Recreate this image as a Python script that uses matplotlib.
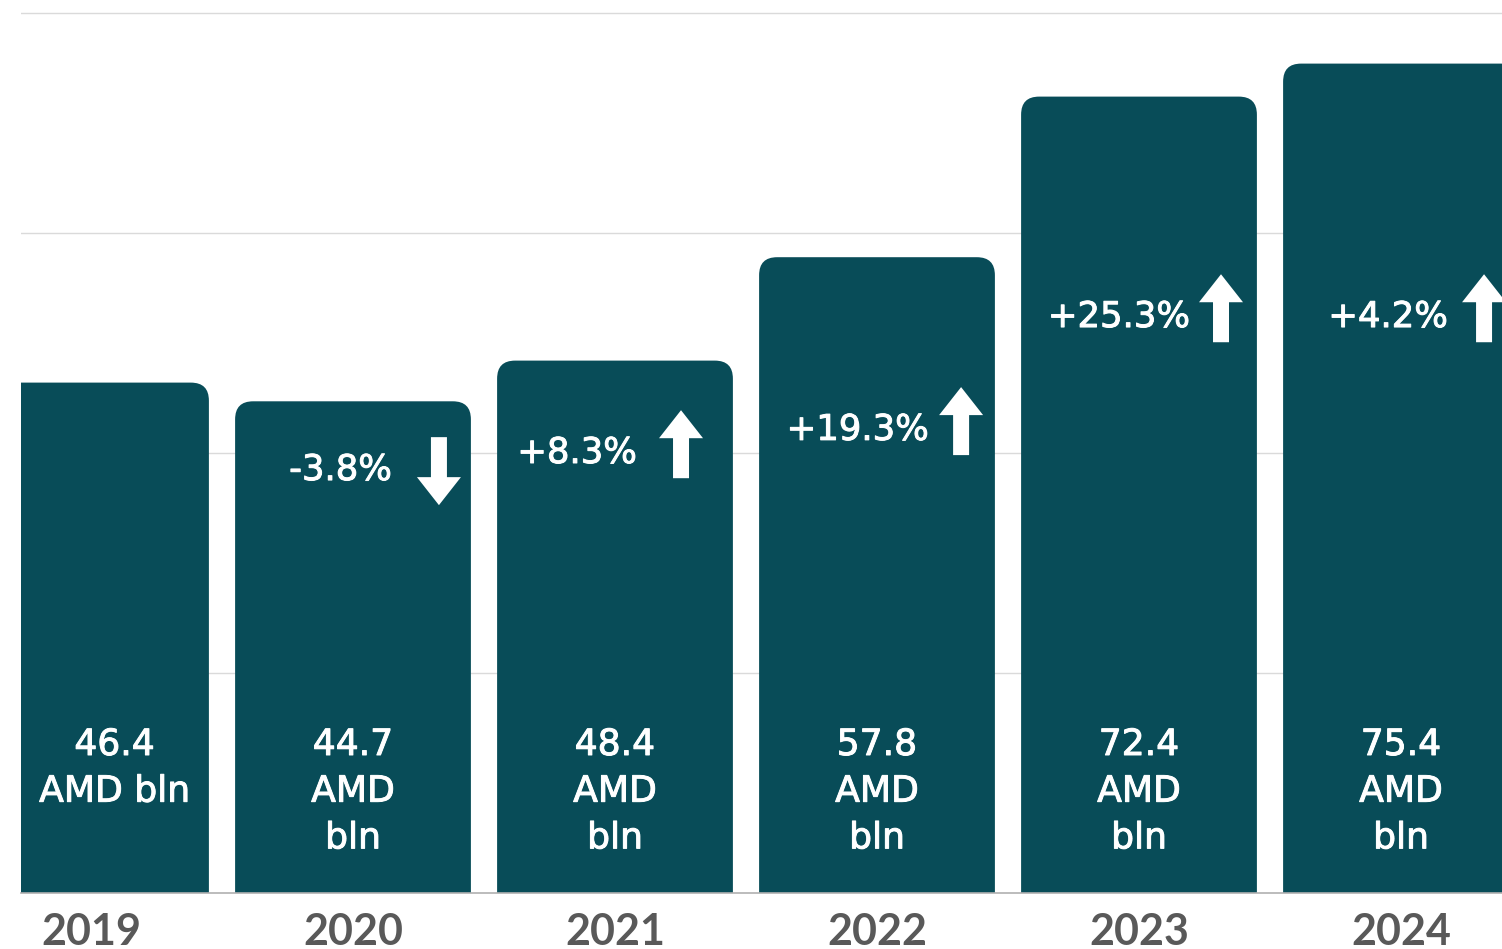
import matplotlib.pyplot as plt
import matplotlib.transforms as mtransforms
import matplotlib.patheffects as pe
from matplotlib.patches import FancyBboxPatch, Polygon

# data
years = ["2019", "2020", "2021", "2022", "2023", "2024"]
values = [46.4, 44.7, 48.4, 57.8, 72.4, 75.4]
value_labels = ["46.4\nAMD bln", "44.7\nAMD\nbln", "48.4\nAMD\nbln",
                "57.8\nAMD\nbln", "72.4\nAMD\nbln", "75.4\nAMD\nbln"]
changes = [None, "-3.8%", "+8.3%", "+19.3%", "+25.3%", "+4.2%"]
directions = [0, -1, 1, 1, 1, 1]

# label layout (data units)
label_dx = [0.09, 0, 0, 0, 0, 0]
text_dx = [0, 0.149, 0.084, 0.198, 0.195, 0.179]
text_y = [0, 38.45, 40.0, 42.1, 52.36, 52.36]
arrow_dx = [0, 0.328, 0.252, 0.321, 0.313, 0.317]

BAR = "#084c58"
FONT = ["Lato", "DejaVu Sans"]
LABEL_FONT = ["DejaVu Sans"]
thicken = [pe.withStroke(linewidth=0.7, foreground="white")]

W, H = 1502, 949
dpi = 100
fig = plt.figure(figsize=(W / dpi, H / dpi), dpi=dpi)

# axes placed so that the baseline sits at y=893px and 11px = 1 unit
px_unit = 11
top_val = 81
ax_h = top_val * px_unit
ax = fig.add_axes([21 / W, (H - 893) / H, (W - 21) / W, ax_h / H])
ax.set_ylim(0, top_val)
ax.set_xlim(-70 / 262, 5 + (W - 21 - 70 - 5 * 262) / 262)

for s in ax.spines.values():
    s.set_visible(False)
ax.axhline(0, color="#b0b0b0", lw=1.2, zorder=3, clip_on=False)
for g in [20, 40, 60, 80]:
    ax.axhline(g, color="#dadada", lw=1, zorder=0)

ax.set_yticks([])
ax.set_xticks(range(len(years)))
ax.set_xticklabels(years, fontsize=31, fontweight="bold", color="#595959", family=FONT)
ax.tick_params(axis="x", length=0, pad=14)

bw = 0.9
r_x = 18 / 262
aspect = (1 / px_unit) / (1 / 262)
for i, v in enumerate(values):
    bar = FancyBboxPatch((i - bw / 2, -3), bw, v + 3,
                         boxstyle=f"round,pad=0,rounding_size={r_x}",
                         mutation_aspect=aspect, facecolor=BAR, edgecolor="none", zorder=2)
    ax.add_patch(bar)
    ax.text(i + label_dx[i], 15.0, value_labels[i], ha="center", va="top", color="white",
            fontsize=26, family=LABEL_FONT, linespacing=1.47, zorder=4,
            path_effects=thicken)

# arrow shape in pixels (pointing up, centred at origin)
hw, sw, hl, L = 22, 8, 28, 68
arrow_up = [(0, L / 2), (hw, L / 2 - hl), (sw, L / 2 - hl), (sw, -L / 2),
            (-sw, -L / 2), (-sw, L / 2 - hl), (-hw, L / 2 - hl)]

for i, c in enumerate(changes):
    if c is None:
        continue
    ax.text(i + text_dx[i], text_y[i], c, ha="right", va="center", color="white",
            fontsize=25.5, family=LABEL_FONT, zorder=4, path_effects=thicken)
    d = directions[i]
    ay = text_y[i] + (0.8 if d > 0 else -0.1)
    pts = [(x, y * d) for x, y in arrow_up]
    tr = mtransforms.Affine2D().scale(dpi / 100) + \
        mtransforms.ScaledTranslation(i + arrow_dx[i], ay, ax.transData)
    ax.add_patch(Polygon(pts, closed=True, facecolor="white", edgecolor="none",
                         transform=tr, zorder=4))

fig.savefig("out.png", dpi=dpi)
